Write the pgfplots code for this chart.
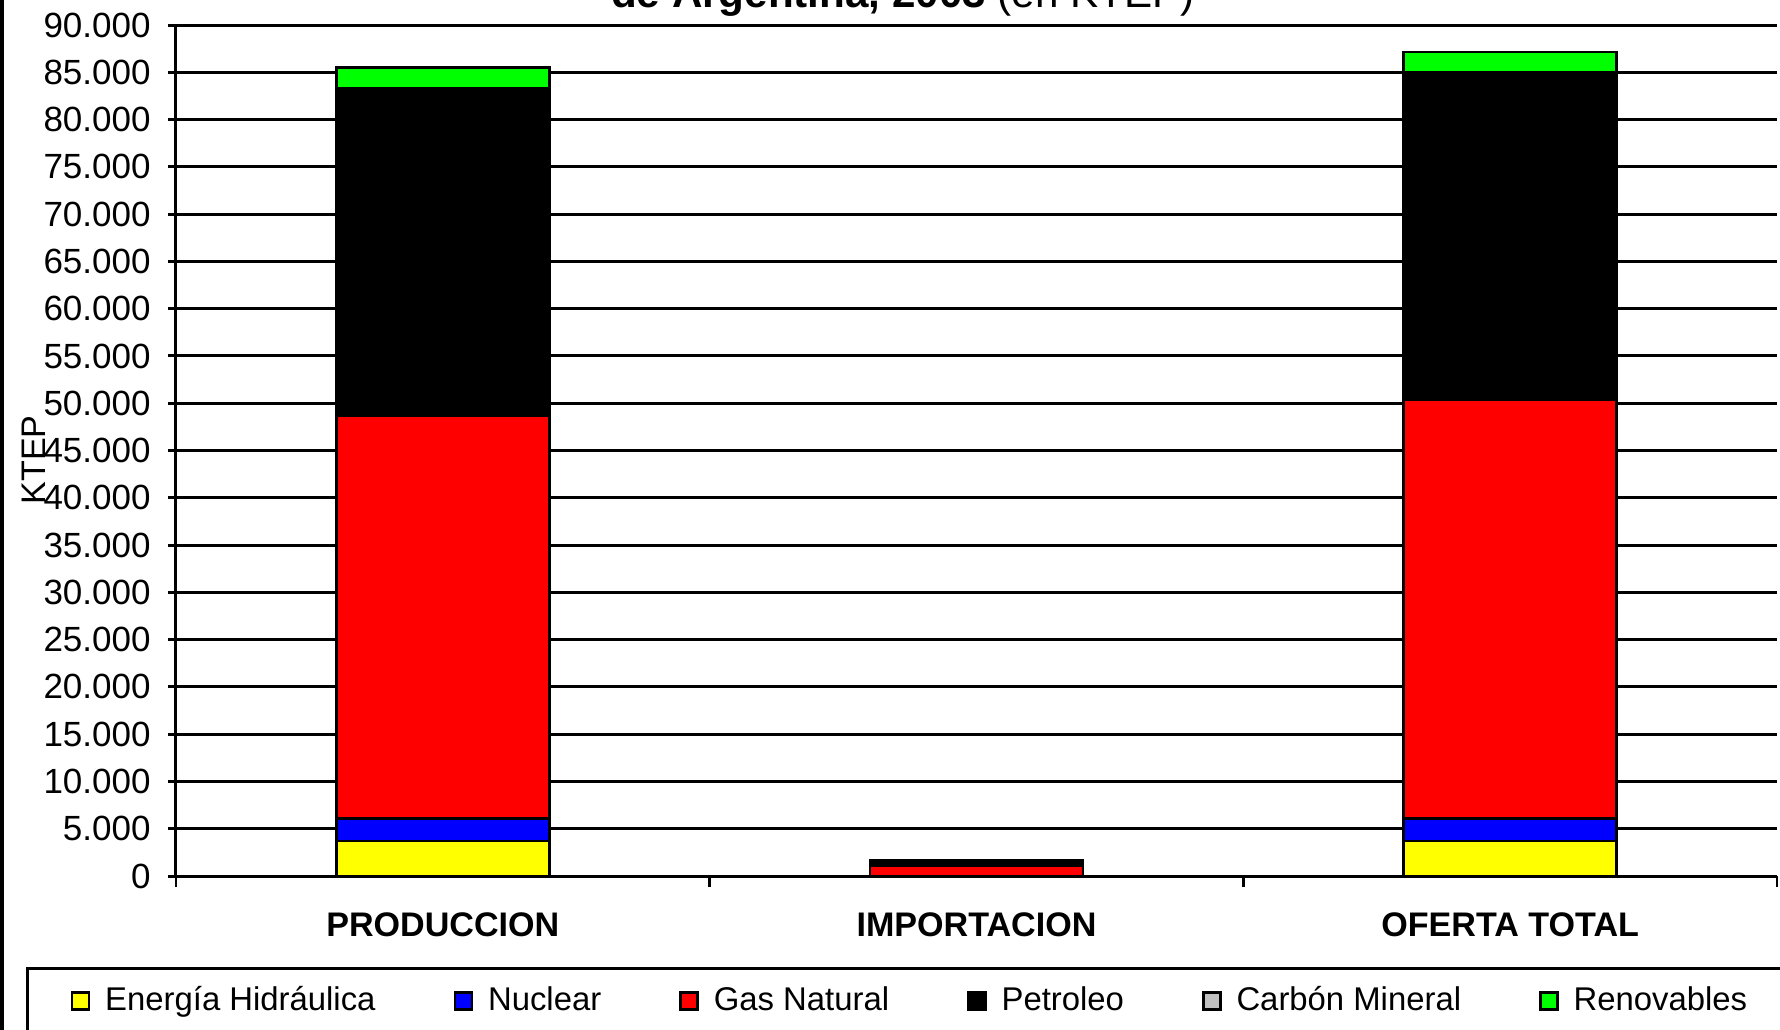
\documentclass[border=0pt]{standalone}
\usepackage{fontspec}
\setmainfont{Liberation Sans}
\usepackage{pgfplots}
\pgfplotsset{compat=1.18}
\definecolor{cyel}{RGB}{255,255,0}
\definecolor{cblu}{RGB}{0,0,255}
\definecolor{cred}{RGB}{255,0,0}
\definecolor{cblk}{RGB}{0,0,0}
\definecolor{cgry}{RGB}{192,192,192}
\definecolor{cgrn}{RGB}{0,255,0}
\pgfplotsset{mylegend/.style={legend image code/.code={\draw[##1, draw=black, line width=0.25mm] (0mm,-0.85mm) rectangle (1.7mm,0.85mm);}}}
\begin{document}
\begin{tikzpicture}
\begin{axis}[
  at={(17.6mm,15.3mm)}, anchor=south west,
  scale only axis, width=160.1mm, height=85.1mm,
  ybar stacked, bar width=21.3mm,
  xmin=-0.5, xmax=2.5, ymin=0, ymax=90000,
  xtick={0,1,2}, xticklabels={PRODUCCION,IMPORTACION,OFERTA TOTAL},
  minor xtick={-0.5,0.5,1.5,2.5},
  ytick={0,5000,...,90000},
  axis lines*=left,
  axis line style={line width=0.3mm, black},
  tick align=outside,
  major x tick style={draw=none},
  minor x tick style={line width=0.25mm, black},
  major y tick style={line width=0.3mm, black},
  major tick length=0.8mm, minor tick length=1.1mm,
  ymajorgrids, major grid style={line width=0.3mm, black},
  scaled y ticks=false,
  yticklabel style={font=\fontsize{9.96}{11}\selectfont, xshift=-0.5mm, /pgf/number format/1000 sep={.}, /pgf/number format/assume math mode=true},
  xticklabel style={font=\bfseries\fontsize{9.7}{11}\selectfont, yshift=-1.6mm},
  ylabel={KTEP},
  ylabel style={at={(axis description cs:-0.0887,0.489)}, anchor=center, font=\fontsize{9.7}{11}\selectfont},
  legend columns=6,
  legend style={at={(axis description cs:-0.0662,-0.147)}, anchor=west, draw=none, fill=none,
    font=\fontsize{9.35}{11}\selectfont, inner sep=0pt, nodes={inner sep=0pt},
    /tikz/every odd column/.append style={column sep=1.5mm},
    /tikz/every even column/.append style={column sep=7.8mm}},
  legend cell align=left,
]
\addplot[fill=cyel, draw=black, line width=0.28mm, mylegend] coordinates {(0,3700) (1,0) (2,3700)};
\addlegendentry{Energía Hidráulica}
\addplot[fill=cblu, draw=black, line width=0.28mm, mylegend] coordinates {(0,2350) (1,0) (2,2350)};
\addlegendentry{Nuclear}
\addplot[fill=cred, draw=black, line width=0.28mm, mylegend] coordinates {(0,42650) (1,1150) (2,44350)};
\addlegendentry{Gas Natural}
\addplot[fill=cblk, draw=black, line width=0.28mm, mylegend] coordinates {(0,34600) (1,500) (2,34600)};
\addlegendentry{Petroleo}
\addplot[fill=cgry, draw=black, line width=0.28mm, mylegend] coordinates {(0,0) (1,0) (2,0)};
\addlegendentry{Carbón Mineral}
\addplot[fill=cgrn, draw=black, line width=0.28mm, mylegend] coordinates {(0,2200) (1,0) (2,2150)};
\addlegendentry{Renovables}
\end{axis}
\node[anchor=base, font=\fontsize{12}{14}\selectfont] at (90.3mm,102.2mm) {\textbf{de Argentina, 2003} (en KTEP)};
\draw[line width=0.3mm] (2.7mm,-2mm) rectangle (185mm,6.1mm);
\draw[line width=0.35mm] (0.2mm,-2mm) -- (0.2mm,105mm);
\pgfresetboundingbox
\useasboundingbox (0,0) rectangle (178mm,102.9mm);
\end{tikzpicture}
\end{document}
